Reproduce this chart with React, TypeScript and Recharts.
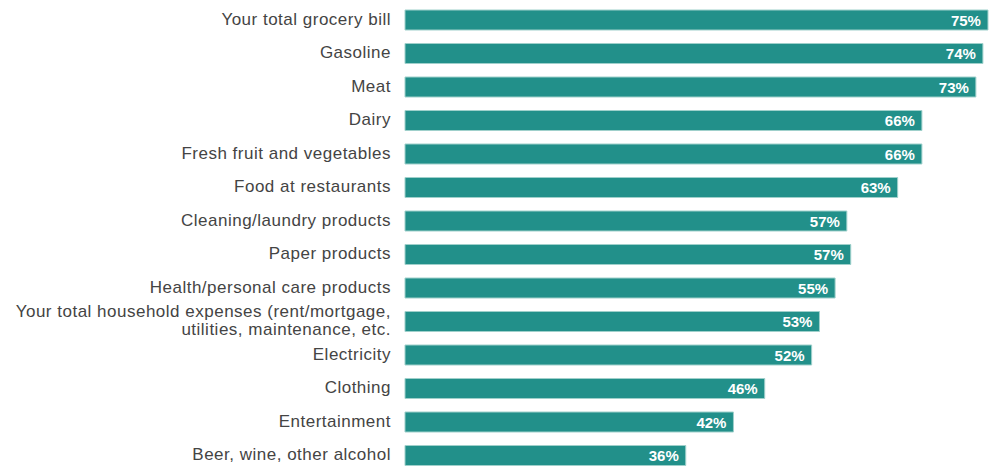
import React from "react";
import { BarChart, Bar, XAxis, YAxis, LabelList } from "recharts";

const categories: string[] = [
  "Your total grocery bill",
  "Gasoline",
  "Meat",
  "Dairy",
  "Fresh fruit and vegetables",
  "Food at restaurants",
  "Cleaning/laundry products",
  "Paper products",
  "Health/personal care products",
  "Your total household expenses (rent/mortgage,\nutilities, maintenance, etc.",
  "Electricity",
  "Clothing",
  "Entertainment",
  "Beer, wine, other alcohol",
];

const values: number[] = [74.55, 73.9, 73.0, 66.1, 66.1, 63.0, 56.5, 57.0, 55.0, 53.0, 52.0, 46.0, 42.0, 35.9];

const valueLabels: string[] = ["75%", "74%", "73%", "66%", "66%", "63%", "57%", "57%", "55%", "53%", "52%", "46%", "42%", "36%"];

const data = categories.map((c, i) => ({ name: c, value: values[i], label: valueLabels[i] }));

const FONT = "'Liberation Sans', Arial, Helvetica, sans-serif";

const CategoryTick = (props: any) => {
  const { x, y, payload } = props;
  const lines: string[] = String(payload.value).split("\n");
  const lh = 18;
  const start = -((lines.length - 1) * lh) / 2;
  return (
    <text x={x} y={y} textAnchor="end" fill="#444444" fontFamily={FONT} fontSize={17} letterSpacing={0.5}>
      {lines.map((l, i) => (
        <tspan key={i} x={x} dy={i === 0 ? start + 5 : lh}>
          {l}
        </tspan>
      ))}
    </text>
  );
};

const ValueLabel = (props: any) => {
  const { x, y, width, height, index } = props;
  return (
    <text
      x={x + width - 7}
      y={y + height / 2 + 5.5}
      textAnchor="end"
      fill="#ffffff"
      fontFamily={FONT}
      fontSize={15}
      fontWeight="bold"
    >
      {data[index].label}
    </text>
  );
};

export default function App() {
  return (
    <div style={{ position: "absolute", left: 0, top: 0, width: 989, height: 466, overflow: "hidden", background: "#fff" }}>
      <BarChart
        width={989}
        height={472}
        data={data}
        layout="vertical"
        margin={{ top: 3, right: 0, bottom: 0, left: 0 }}
        barSize={20}
      >
        <XAxis type="number" domain={[0, 74.68]} hide />
        <YAxis
          type="category"
          dataKey="name"
          width={405}
          axisLine={false}
          tickLine={false}
          tickSize={0}
          tickMargin={14}
          tick={<CategoryTick />}
          interval={0}
        />
        <Bar dataKey="value" fill="#22908a" stroke="#9fd0cb" strokeWidth={1} isAnimationActive={false}>
          <LabelList dataKey="value" content={<ValueLabel />} />
        </Bar>
      </BarChart>
    </div>
  );
}
